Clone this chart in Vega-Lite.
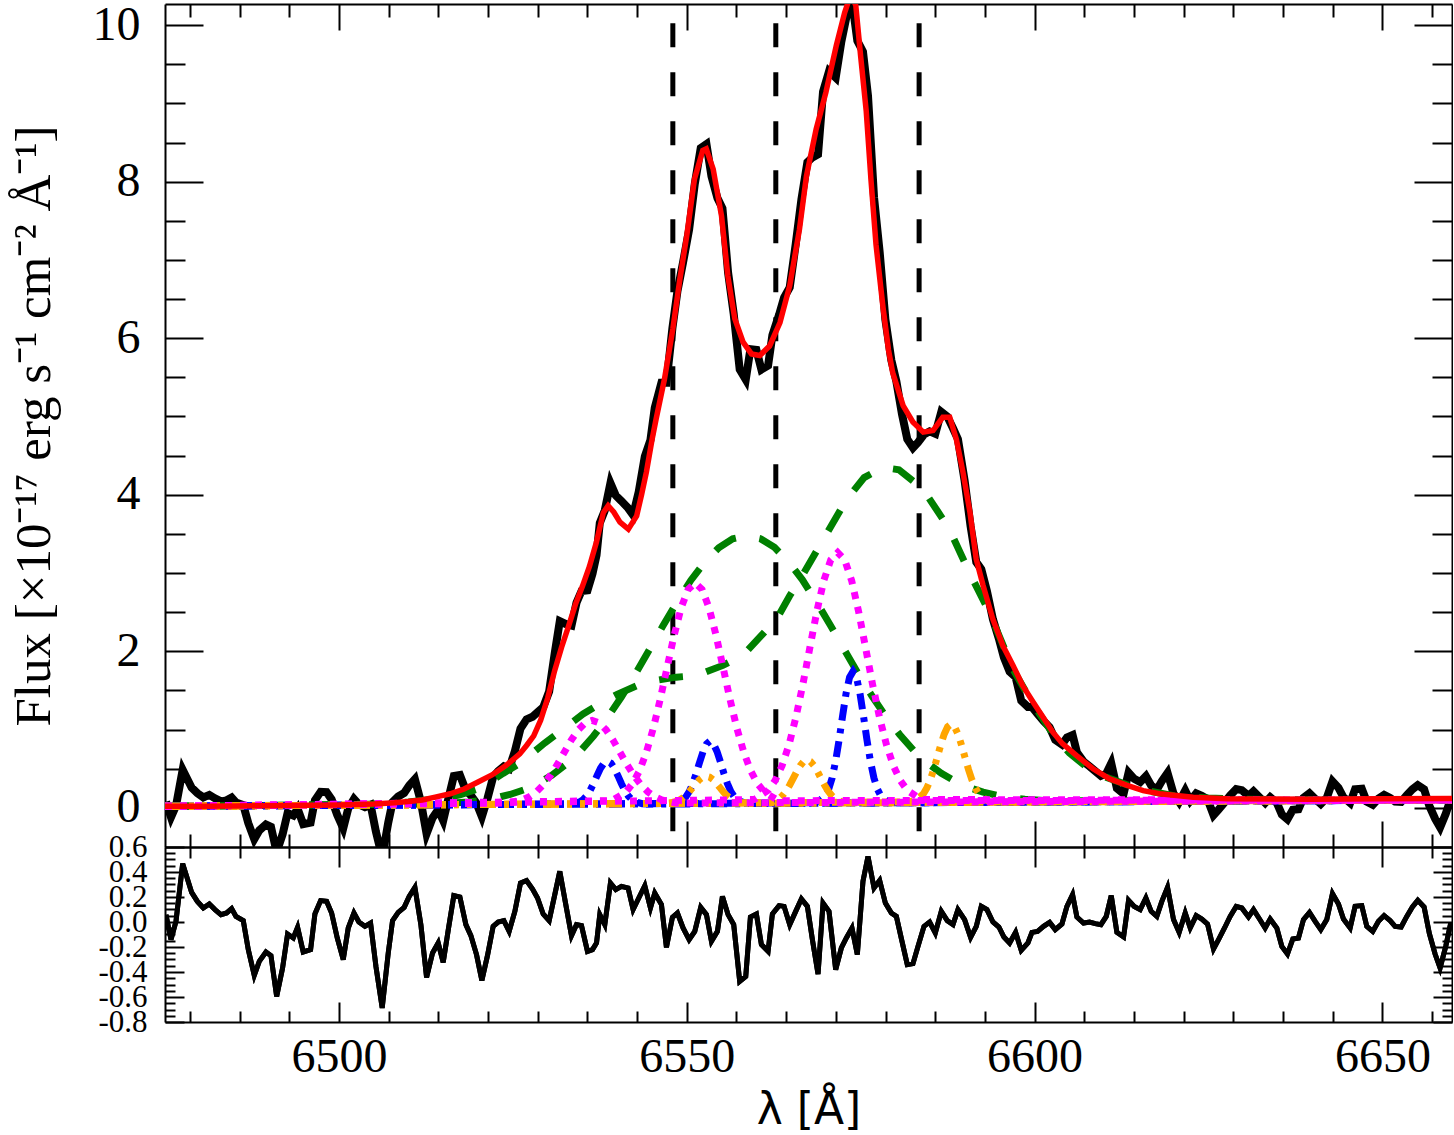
{
  "$schema": "https://vega.github.io/schema/vega-lite/v6.json",
  "background": "white",
  "padding": {"left": 8, "top": 1, "right": 0, "bottom": 0},
  "config": {
    "view": {"stroke": null},
    "axis": {
      "grid": false,
      "domainColor": "black",
      "domainWidth": 2,
      "tickColor": "black",
      "tickWidth": 2,
      "labelColor": "black",
      "labelFont": "Liberation Serif",
      "titleFont": "Liberation Serif",
      "titleFontWeight": "normal",
      "titleColor": "black",
      "labelOverlap": false,
      "labelFlush": false
    }
  },
  "datasets": {
    "obs": [
      {"lam":6475.14,"f":0.078},{"lam":6475.86,"f":-0.121},{"lam":6476.58,"f":0.025},{"lam":6477.54,"f":0.487},{"lam":6478.83,"f":0.258},{"lam":6479.65,"f":0.187},{"lam":6480.51,"f":0.134},{"lam":6481.37,"f":0.166},{"lam":6482.18,"f":0.122},{"lam":6483.05,"f":0.083},{"lam":6483.86,"f":0.096},{"lam":6484.58,"f":0.132},{"lam":6485.2,"f":0.07},{"lam":6486.25,"f":0.036},{"lam":6486.97,"f":-0.195},{"lam":6487.83,"f":-0.4},{"lam":6488.55,"f":-0.288},{"lam":6489.51,"f":-0.212},{"lam":6490.23,"f":-0.241},{"lam":6491.05,"f":-0.566},{"lam":6491.9,"f":-0.338},{"lam":6492.62,"f":-0.066},{"lam":6493.44,"f":-0.098},{"lam":6494.06,"f":-0.012},{"lam":6494.87,"f":-0.208},{"lam":6495.93,"f":-0.188},{"lam":6496.55,"f":0.097},{"lam":6497.37,"f":0.205},{"lam":6498.23,"f":0.2},{"lam":6498.95,"f":0.108},{"lam":6499.76,"f":-0.09},{"lam":6500.62,"f":-0.262},{"lam":6501.34,"f":-0.008},{"lam":6502.16,"f":0.114},{"lam":6502.87,"f":0.044},{"lam":6503.74,"f":0.01},{"lam":6504.55,"f":0.04},{"lam":6505.32,"f":-0.304},{"lam":6506.22,"f":-0.632},{"lam":6507.09,"f":-0.188},{"lam":6507.71,"f":0.074},{"lam":6508.52,"f":0.145},{"lam":6509.38,"f":0.19},{"lam":6510.1,"f":0.286},{"lam":6510.92,"f":0.366},{"lam":6511.78,"f":0.077},{"lam":6512.6,"f":-0.331},{"lam":6513.46,"f":-0.128},{"lam":6514.27,"f":-0.023},{"lam":6514.99,"f":-0.163},{"lam":6515.76,"f":0.127},{"lam":6516.52,"f":0.406},{"lam":6517.39,"f":0.42},{"lam":6518.25,"f":0.223},{"lam":6518.97,"f":0.161},{"lam":6519.78,"f":0.06},{"lam":6520.55,"f":-0.113},{"lam":6521.36,"f":0.122},{"lam":6522.17,"f":0.395},{"lam":6522.89,"f":0.47},{"lam":6523.71,"f":0.53},{"lam":6524.47,"f":0.5},{"lam":6525.29,"f":0.725},{"lam":6526.1,"f":1.012},{"lam":6526.97,"f":1.131},{"lam":6527.83,"f":1.164},{"lam":6528.55,"f":1.222},{"lam":6529.36,"f":1.284},{"lam":6530.22,"f":1.488},{"lam":6531.03,"f":1.98},{"lam":6531.75,"f":2.385},{"lam":6532.57,"f":2.35},{"lam":6533.43,"f":2.33},{"lam":6534.15,"f":2.62},{"lam":6534.87,"f":2.77},{"lam":6535.73,"f":2.78},{"lam":6536.45,"f":2.99},{"lam":6537.03,"f":3.23},{"lam":6537.5,"f":3.64},{"lam":6538.22,"f":3.8},{"lam":6539.03,"f":4.15},{"lam":6539.8,"f":3.99},{"lam":6540.61,"f":3.92},{"lam":6541.57,"f":3.83},{"lam":6542.29,"f":3.74},{"lam":6543.1,"f":4.04},{"lam":6543.97,"f":4.49},{"lam":6544.78,"f":4.7},{"lam":6545.4,"f":5.11},{"lam":6546.36,"f":5.43},{"lam":6547.08,"f":5.43},{"lam":6547.94,"f":6.13},{"lam":6548.66,"f":6.6},{"lam":6549.47,"f":6.97},{"lam":6550.34,"f":7.39},{"lam":6551.15,"f":7.97},{"lam":6552.01,"f":8.43},{"lam":6552.83,"f":8.48},{"lam":6553.55,"f":8.07},{"lam":6554.41,"f":7.79},{"lam":6555.13,"f":7.66},{"lam":6555.94,"f":6.84},{"lam":6556.75,"f":6.31},{"lam":6557.61,"f":5.6},{"lam":6558.48,"f":5.47},{"lam":6559.15,"f":5.86},{"lam":6560.01,"f":5.85},{"lam":6560.73,"f":5.6},{"lam":6561.69,"f":5.65},{"lam":6562.31,"f":6.04},{"lam":6563.27,"f":6.3},{"lam":6563.99,"f":6.52},{"lam":6564.8,"f":6.65},{"lam":6565.66,"f":7.2},{"lam":6566.48,"f":7.77},{"lam":6567.34,"f":8.25},{"lam":6568.06,"f":8.31},{"lam":6568.87,"f":8.35},{"lam":6569.59,"f":9.15},{"lam":6570.45,"f":9.41},{"lam":6571.41,"f":9.33},{"lam":6572.22,"f":9.79},{"lam":6572.94,"f":10.1},{"lam":6573.75,"f":10.32},{"lam":6574.52,"f":9.8},{"lam":6575.33,"f":9.66},{"lam":6576.05,"f":9.1},{"lam":6576.92,"f":7.8},{"lam":6577.73,"f":7.1},{"lam":6578.55,"f":6.24},{"lam":6579.41,"f":5.72},{"lam":6580.13,"f":5.45},{"lam":6580.94,"f":5.03},{"lam":6581.7,"f":4.71},{"lam":6582.52,"f":4.6},{"lam":6583.24,"f":4.67},{"lam":6584.1,"f":4.77},{"lam":6584.91,"f":4.81},{"lam":6585.73,"f":4.78},{"lam":6586.59,"f":5.06},{"lam":6587.45,"f":5.0},{"lam":6588.27,"f":4.85},{"lam":6588.98,"f":4.71},{"lam":6589.94,"f":4.18},{"lam":6590.8,"f":3.6},{"lam":6591.62,"f":3.14},{"lam":6592.34,"f":3.05},{"lam":6593.15,"f":2.77},{"lam":6594.01,"f":2.41},{"lam":6594.87,"f":2.16},{"lam":6595.59,"f":1.92},{"lam":6596.41,"f":1.74},{"lam":6597.27,"f":1.67},{"lam":6598.08,"f":1.37},{"lam":6599.04,"f":1.29},{"lam":6599.62,"f":1.29},{"lam":6600.43,"f":1.2},{"lam":6601.29,"f":1.11},{"lam":6602.16,"f":1.03},{"lam":6602.97,"f":0.87},{"lam":6603.93,"f":0.81},{"lam":6604.65,"f":0.9},{"lam":6605.46,"f":0.93},{"lam":6606.08,"f":0.71},{"lam":6607.04,"f":0.59},{"lam":6607.9,"f":0.53},{"lam":6608.72,"f":0.47},{"lam":6609.53,"f":0.41},{"lam":6610.3,"f":0.44},{"lam":6611.02,"f":0.57},{"lam":6611.83,"f":0.25},{"lam":6612.79,"f":0.18},{"lam":6613.51,"f":0.45},{"lam":6614.32,"f":0.37},{"lam":6615.18,"f":0.33},{"lam":6616.0,"f":0.405},{"lam":6616.76,"f":0.285},{"lam":6617.57,"f":0.232},{"lam":6618.29,"f":0.342},{"lam":6619.11,"f":0.447},{"lam":6619.97,"f":0.183},{"lam":6620.78,"f":0.075},{"lam":6621.65,"f":0.22},{"lam":6622.37,"f":0.09},{"lam":6623.23,"f":0.184},{"lam":6624.04,"f":0.154},{"lam":6624.86,"f":0.11},{"lam":6625.72,"f":-0.094},{"lam":6626.44,"f":-0.022},{"lam":6627.3,"f":0.068},{"lam":6628.11,"f":0.16},{"lam":6628.98,"f":0.239},{"lam":6629.79,"f":0.226},{"lam":6630.75,"f":0.153},{"lam":6631.47,"f":0.212},{"lam":6632.33,"f":0.136},{"lam":6633.14,"f":0.064},{"lam":6633.86,"f":0.136},{"lam":6634.82,"f":0.063},{"lam":6635.54,"f":-0.084},{"lam":6636.35,"f":-0.145},{"lam":6637.12,"f":-0.025},{"lam":6637.93,"f":-0.018},{"lam":6638.65,"f":0.129},{"lam":6639.51,"f":0.187},{"lam":6640.33,"f":0.115},{"lam":6641.14,"f":0.049},{"lam":6642.0,"f":0.129},{"lam":6642.82,"f":0.338},{"lam":6643.68,"f":0.255},{"lam":6644.4,"f":0.135},{"lam":6645.36,"f":0.063},{"lam":6646.07,"f":0.238},{"lam":6647.03,"f":0.245},{"lam":6647.75,"f":0.079},{"lam":6648.61,"f":0.039},{"lam":6649.43,"f":0.12},{"lam":6650.24,"f":0.166},{"lam":6651.1,"f":0.126},{"lam":6651.82,"f":0.08},{"lam":6652.69,"f":0.076},{"lam":6653.5,"f":0.161},{"lam":6654.31,"f":0.237},{"lam":6655.08,"f":0.29},{"lam":6655.99,"f":0.237},{"lam":6656.75,"f":0.024},{"lam":6657.57,"f":-0.138},{"lam":6658.29,"f":-0.25},{"lam":6659.1,"f":-0.076},{"lam":6659.82,"f":0.112}
    ],
    "res": [
      {"lam":6475.14,"r":0.058},{"lam":6475.86,"r":-0.141},{"lam":6476.58,"r":0.005},{"lam":6477.54,"r":0.467},{"lam":6478.83,"r":0.237},{"lam":6479.65,"r":0.165},{"lam":6480.51,"r":0.112},{"lam":6481.37,"r":0.144},{"lam":6482.18,"r":0.099},{"lam":6483.05,"r":0.059},{"lam":6483.86,"r":0.072},{"lam":6484.58,"r":0.107},{"lam":6485.2,"r":0.045},{"lam":6486.25,"r":0.011},{"lam":6486.97,"r":-0.221},{"lam":6487.83,"r":-0.427},{"lam":6488.55,"r":-0.315},{"lam":6489.51,"r":-0.24},{"lam":6490.23,"r":-0.269},{"lam":6491.05,"r":-0.595},{"lam":6491.9,"r":-0.368},{"lam":6492.62,"r":-0.096},{"lam":6493.44,"r":-0.128},{"lam":6494.06,"r":-0.043},{"lam":6494.87,"r":-0.24},{"lam":6495.93,"r":-0.221},{"lam":6496.55,"r":0.064},{"lam":6497.37,"r":0.171},{"lam":6498.23,"r":0.165},{"lam":6498.95,"r":0.072},{"lam":6499.76,"r":-0.128},{"lam":6500.62,"r":-0.301},{"lam":6501.34,"r":-0.048},{"lam":6502.16,"r":0.072},{"lam":6502.87,"r":0.0},{"lam":6503.74,"r":-0.035},{"lam":6504.55,"r":-0.008},{"lam":6505.32,"r":-0.355},{"lam":6506.22,"r":-0.688},{"lam":6507.09,"r":-0.248},{"lam":6507.71,"r":0.011},{"lam":6508.52,"r":0.077},{"lam":6509.38,"r":0.117},{"lam":6510.1,"r":0.205},{"lam":6510.92,"r":0.277},{"lam":6511.78,"r":-0.021},{"lam":6512.6,"r":-0.443},{"lam":6513.46,"r":-0.248},{"lam":6514.27,"r":-0.168},{"lam":6514.99,"r":-0.323},{"lam":6515.76,"r":-0.048},{"lam":6516.52,"r":0.211},{"lam":6517.39,"r":0.2},{"lam":6518.25,"r":-0.021},{"lam":6518.97,"r":-0.109},{"lam":6519.78,"r":-0.261},{"lam":6520.55,"r":-0.467},{"lam":6521.36,"r":-0.267},{"lam":6522.17,"r":-0.035},{"lam":6522.89,"r":0.0},{"lam":6523.71,"r":0.011},{"lam":6524.47,"r":-0.075},{"lam":6525.29,"r":0.085},{"lam":6526.1,"r":0.312},{"lam":6526.97,"r":0.331},{"lam":6527.83,"r":0.264},{"lam":6528.55,"r":0.192},{"lam":6529.36,"r":0.064},{"lam":6530.22,"r":0.011},{"lam":6531.03,"r":0.219},{"lam":6531.75,"r":0.405},{"lam":6532.57,"r":0.152},{"lam":6533.43,"r":-0.109},{"lam":6534.15,"r":-0.021},{"lam":6534.87,"r":-0.029},{"lam":6535.73,"r":-0.235},{"lam":6536.45,"r":-0.221},{"lam":6537.03,"r":-0.168},{"lam":6537.5,"r":0.059},{"lam":6538.22,"r":-0.021},{"lam":6539.03,"r":0.312},{"lam":6539.8,"r":0.259},{"lam":6540.61,"r":0.285},{"lam":6541.57,"r":0.272},{"lam":6542.29,"r":0.099},{"lam":6543.1,"r":0.192},{"lam":6543.97,"r":0.291},{"lam":6544.78,"r":0.112},{"lam":6545.4,"r":0.232},{"lam":6546.36,"r":0.139},{"lam":6547.08,"r":-0.203},{"lam":6547.94,"r":0.037},{"lam":6548.66,"r":0.072},{"lam":6549.47,"r":-0.048},{"lam":6550.34,"r":-0.141},{"lam":6551.15,"r":-0.075},{"lam":6552.01,"r":0.117},{"lam":6552.83,"r":0.059},{"lam":6553.55,"r":-0.155},{"lam":6554.41,"r":-0.075},{"lam":6555.13,"r":0.205},{"lam":6555.94,"r":0.059},{"lam":6556.75,"r":-0.021},{"lam":6557.61,"r":-0.475},{"lam":6558.48,"r":-0.435},{"lam":6559.15,"r":0.04},{"lam":6560.01,"r":0.064},{"lam":6560.73,"r":-0.181},{"lam":6561.69,"r":-0.235},{"lam":6562.31,"r":0.064},{"lam":6563.27,"r":0.131},{"lam":6563.99,"r":0.125},{"lam":6564.8,"r":-0.021},{"lam":6565.66,"r":0.085},{"lam":6566.48,"r":0.184},{"lam":6567.34,"r":0.125},{"lam":6568.06,"r":-0.141},{"lam":6568.87,"r":-0.416},{"lam":6569.59,"r":0.152},{"lam":6570.45,"r":0.085},{"lam":6571.41,"r":-0.381},{"lam":6572.22,"r":-0.208},{"lam":6572.94,"r":-0.128},{"lam":6573.75,"r":-0.048},{"lam":6574.52,"r":-0.261},{"lam":6575.33,"r":0.325},{"lam":6576.05,"r":0.525},{"lam":6576.92,"r":0.272},{"lam":6577.73,"r":0.333},{"lam":6578.55,"r":0.152},{"lam":6579.41,"r":0.072},{"lam":6580.13,"r":0.045},{"lam":6580.94,"r":-0.155},{"lam":6581.7,"r":-0.341},{"lam":6582.52,"r":-0.333},{"lam":6583.24,"r":-0.195},{"lam":6584.1,"r":-0.035},{"lam":6584.91,"r":0.0},{"lam":6585.73,"r":-0.088},{"lam":6586.59,"r":0.085},{"lam":6587.45,"r":0.011},{"lam":6588.27,"r":-0.021},{"lam":6588.98,"r":0.099},{"lam":6589.94,"r":0.019},{"lam":6590.8,"r":-0.123},{"lam":6591.62,"r":-0.035},{"lam":6592.34,"r":0.125},{"lam":6593.15,"r":0.099},{"lam":6594.01,"r":0.0},{"lam":6594.87,"r":-0.04},{"lam":6595.59,"r":-0.12},{"lam":6596.41,"r":-0.168},{"lam":6597.27,"r":-0.083},{"lam":6598.08,"r":-0.227},{"lam":6599.04,"r":-0.168},{"lam":6599.62,"r":-0.083},{"lam":6600.43,"r":-0.075},{"lam":6601.29,"r":-0.035},{"lam":6602.16,"r":-0.003},{"lam":6602.97,"r":-0.061},{"lam":6603.93,"r":-0.016},{"lam":6604.65,"r":0.125},{"lam":6605.46,"r":0.219},{"lam":6606.08,"r":0.04},{"lam":6607.04,"r":-0.008},{"lam":6607.9,"r":0.0},{"lam":6608.72,"r":-0.013},{"lam":6609.53,"r":-0.021},{"lam":6610.3,"r":0.045},{"lam":6611.02,"r":0.211},{"lam":6611.83,"r":-0.083},{"lam":6612.79,"r":-0.12},{"lam":6613.51,"r":0.173},{"lam":6614.32,"r":0.125},{"lam":6615.18,"r":0.099},{"lam":6616.0,"r":0.192},{"lam":6616.76,"r":0.085},{"lam":6617.57,"r":0.045},{"lam":6618.29,"r":0.165},{"lam":6619.11,"r":0.277},{"lam":6619.97,"r":0.019},{"lam":6620.78,"r":-0.083},{"lam":6621.65,"r":0.072},{"lam":6622.37,"r":-0.048},{"lam":6623.23,"r":0.051},{"lam":6624.04,"r":0.024},{"lam":6624.86,"r":-0.016},{"lam":6625.72,"r":-0.216},{"lam":6626.44,"r":-0.141},{"lam":6627.3,"r":-0.048},{"lam":6628.11,"r":0.045},{"lam":6628.98,"r":0.125},{"lam":6629.79,"r":0.112},{"lam":6630.75,"r":0.04},{"lam":6631.47,"r":0.099},{"lam":6632.33,"r":0.024},{"lam":6633.14,"r":-0.048},{"lam":6633.86,"r":0.024},{"lam":6634.82,"r":-0.048},{"lam":6635.54,"r":-0.195},{"lam":6636.35,"r":-0.256},{"lam":6637.12,"r":-0.136},{"lam":6637.93,"r":-0.128},{"lam":6638.65,"r":0.019},{"lam":6639.51,"r":0.077},{"lam":6640.33,"r":0.005},{"lam":6641.14,"r":-0.061},{"lam":6642.0,"r":0.019},{"lam":6642.82,"r":0.227},{"lam":6643.68,"r":0.144},{"lam":6644.4,"r":0.024},{"lam":6645.36,"r":-0.048},{"lam":6646.07,"r":0.125},{"lam":6647.03,"r":0.131},{"lam":6647.75,"r":-0.035},{"lam":6648.61,"r":-0.075},{"lam":6649.43,"r":0.005},{"lam":6650.24,"r":0.051},{"lam":6651.1,"r":0.011},{"lam":6651.82,"r":-0.035},{"lam":6652.69,"r":-0.04},{"lam":6653.5,"r":0.045},{"lam":6654.31,"r":0.12},{"lam":6655.08,"r":0.173},{"lam":6655.99,"r":0.12},{"lam":6656.75,"r":-0.093},{"lam":6657.57,"r":-0.256},{"lam":6658.29,"r":-0.368},{"lam":6659.1,"r":-0.195},{"lam":6659.82,"r":-0.008}
    ],
    "model": [
      {"lam":6475,"f":0.02},{"lam":6480,"f":0.022},{"lam":6485,"f":0.025},{"lam":6490,"f":0.028},{"lam":6495,"f":0.032},{"lam":6500,"f":0.038},{"lam":6505,"f":0.05},{"lam":6508,"f":0.065},{"lam":6510,"f":0.08},{"lam":6512,"f":0.1},{"lam":6514,"f":0.14},{"lam":6516,"f":0.18},{"lam":6518,"f":0.24},{"lam":6520,"f":0.33},{"lam":6522,"f":0.42},{"lam":6524,"f":0.54},{"lam":6526,"f":0.69},{"lam":6527,"f":0.8},{"lam":6528,"f":0.92},{"lam":6529,"f":1.12},{"lam":6530,"f":1.4},{"lam":6531,"f":1.75},{"lam":6532,"f":2.05},{"lam":6533,"f":2.32},{"lam":6534,"f":2.6},{"lam":6535,"f":2.83},{"lam":6536,"f":3.08},{"lam":6537,"f":3.39},{"lam":6538,"f":3.77},{"lam":6538.7,"f":3.86},{"lam":6539.5,"f":3.78},{"lam":6540.4,"f":3.65},{"lam":6541.6,"f":3.56},{"lam":6542.8,"f":3.73},{"lam":6543.5,"f":4.0},{"lam":6544.2,"f":4.29},{"lam":6545,"f":4.7},{"lam":6545.6,"f":4.97},{"lam":6546.8,"f":5.48},{"lam":6548,"f":6.12},{"lam":6549,"f":6.75},{"lam":6550,"f":7.31},{"lam":6551.1,"f":8.03},{"lam":6552.3,"f":8.4},{"lam":6552.8,"f":8.42},{"lam":6553.8,"f":8.16},{"lam":6555,"f":7.56},{"lam":6555.9,"f":6.8},{"lam":6556.9,"f":6.25},{"lam":6558.1,"f":5.95},{"lam":6559.3,"f":5.8},{"lam":6560.5,"f":5.78},{"lam":6561.9,"f":5.9},{"lam":6563.4,"f":6.2},{"lam":6564.8,"f":6.67},{"lam":6566.2,"f":7.39},{"lam":6567.2,"f":8.07},{"lam":6568.6,"f":8.67},{"lam":6570,"f":9.14},{"lam":6571.5,"f":9.74},{"lam":6572.7,"f":10.16},{"lam":6573.6,"f":10.4},{"lam":6574.3,"f":10.25},{"lam":6575,"f":9.6},{"lam":6575.8,"f":8.9},{"lam":6576.5,"f":8.0},{"lam":6577.2,"f":7.2},{"lam":6578.2,"f":6.4},{"lam":6579,"f":5.85},{"lam":6579.6,"f":5.56},{"lam":6581.1,"f":5.14},{"lam":6582.5,"f":4.93},{"lam":6584,"f":4.8},{"lam":6585.4,"f":4.82},{"lam":6586.8,"f":4.99},{"lam":6587.8,"f":4.99},{"lam":6588.75,"f":4.71},{"lam":6589.7,"f":4.29},{"lam":6590.7,"f":3.78},{"lam":6591.6,"f":3.18},{"lam":6592.6,"f":2.84},{"lam":6594,"f":2.41},{"lam":6595.45,"f":2.07},{"lam":6596.9,"f":1.82},{"lam":6598.3,"f":1.56},{"lam":6599.8,"f":1.35},{"lam":6601.2,"f":1.16},{"lam":6602.6,"f":0.97},{"lam":6604,"f":0.82},{"lam":6606,"f":0.67},{"lam":6608.4,"f":0.5},{"lam":6610.8,"f":0.37},{"lam":6613.2,"f":0.29},{"lam":6615.6,"f":0.22},{"lam":6618,"f":0.18},{"lam":6622.8,"f":0.135},{"lam":6627.6,"f":0.115},{"lam":6640,"f":0.11},{"lam":6650,"f":0.115},{"lam":6660,"f":0.12}
    ],
    "green": [
      {"line":"A","lam":6475,"f":0.02},{"line":"A","lam":6514.6,"f":0.051},{"line":"A","lam":6518.6,"f":0.076},{"line":"A","lam":6520.6,"f":0.098},{"line":"A","lam":6522.6,"f":0.129},{"line":"A","lam":6524.6,"f":0.171},{"line":"A","lam":6526.6,"f":0.231},{"line":"A","lam":6528.6,"f":0.312},{"line":"A","lam":6530.6,"f":0.417},{"line":"A","lam":6532.6,"f":0.551},{"line":"A","lam":6534.6,"f":0.716},{"line":"A","lam":6536.6,"f":0.919},{"line":"A","lam":6538.6,"f":1.152},{"line":"A","lam":6540.6,"f":1.416},{"line":"A","lam":6542.6,"f":1.708},{"line":"A","lam":6544.6,"f":2.017},{"line":"A","lam":6546.6,"f":2.329},{"line":"A","lam":6548.6,"f":2.631},{"line":"A","lam":6550.6,"f":2.909},{"line":"A","lam":6552.6,"f":3.142},{"line":"A","lam":6554.6,"f":3.324},{"line":"A","lam":6556.6,"f":3.437},{"line":"A","lam":6558.6,"f":3.476},{"line":"A","lam":6560.6,"f":3.439},{"line":"A","lam":6562.6,"f":3.328},{"line":"A","lam":6564.6,"f":3.147},{"line":"A","lam":6566.6,"f":2.916},{"line":"A","lam":6568.6,"f":2.639},{"line":"A","lam":6570.6,"f":2.339},{"line":"A","lam":6572.6,"f":2.029},{"line":"A","lam":6574.6,"f":1.722},{"line":"A","lam":6576.6,"f":1.432},{"line":"A","lam":6578.6,"f":1.17},{"line":"A","lam":6580.6,"f":0.938},{"line":"A","lam":6582.6,"f":0.736},{"line":"A","lam":6584.6,"f":0.573},{"line":"A","lam":6586.6,"f":0.441},{"line":"A","lam":6588.6,"f":0.338},{"line":"A","lam":6590.6,"f":0.259},{"line":"A","lam":6592.6,"f":0.201},{"line":"A","lam":6594.6,"f":0.16},{"line":"A","lam":6596.6,"f":0.131},{"line":"A","lam":6598.6,"f":0.11},{"line":"A","lam":6602.6,"f":0.089},{"line":"A","lam":6660,"f":0.1},
      {"line":"B","lam":6475,"f":0.02},{"line":"B","lam":6490,"f":0.03},{"line":"B","lam":6500,"f":0.04},{"line":"B","lam":6505,"f":0.05},{"line":"B","lam":6510,"f":0.075},{"line":"B","lam":6514,"f":0.115},{"line":"B","lam":6517.4,"f":0.165},{"line":"B","lam":6520.3,"f":0.25},{"line":"B","lam":6523.6,"f":0.44},{"line":"B","lam":6526.2,"f":0.58},{"line":"B","lam":6529.6,"f":0.83},{"line":"B","lam":6531.7,"f":0.97},{"line":"B","lam":6535.1,"f":1.2},{"line":"B","lam":6537.5,"f":1.33},{"line":"B","lam":6540,"f":1.45},{"line":"B","lam":6542.8,"f":1.56},{"line":"B","lam":6544.2,"f":1.61},{"line":"B","lam":6548.5,"f":1.67},{"line":"B","lam":6551.4,"f":1.69},{"line":"B","lam":6555.2,"f":1.82},{"line":"B","lam":6558.1,"f":1.95},{"line":"B","lam":6560.5,"f":2.18},{"line":"B","lam":6562.9,"f":2.41},{"line":"B","lam":6564.8,"f":2.71},{"line":"B","lam":6566.3,"f":2.92},{"line":"B","lam":6569.1,"f":3.35},{"line":"B","lam":6572.9,"f":3.93},{"line":"B","lam":6575.5,"f":4.22},{"line":"B","lam":6578.2,"f":4.35},{"line":"B","lam":6580.5,"f":4.32},{"line":"B","lam":6583.9,"f":4.08},{"line":"B","lam":6587.7,"f":3.57},{"line":"B","lam":6590.6,"f":3.01},{"line":"B","lam":6593.5,"f":2.5},{"line":"B","lam":6596.9,"f":1.77},{"line":"B","lam":6599.8,"f":1.32},{"line":"B","lam":6602.6,"f":0.95},{"line":"B","lam":6605,"f":0.7},{"line":"B","lam":6607.5,"f":0.52},{"line":"B","lam":6610,"f":0.4},{"line":"B","lam":6615,"f":0.24},{"line":"B","lam":6620,"f":0.155},{"line":"B","lam":6625,"f":0.125},{"line":"B","lam":6630,"f":0.11},{"line":"B","lam":6645,"f":0.1},{"line":"B","lam":6660,"f":0.102}
    ],
    "magenta": [
      {"line":"M1","lam":6475,"f":0.02},{"line":"M1","lam":6524.4,"f":0.062},{"line":"M1","lam":6526.4,"f":0.102},{"line":"M1","lam":6527.4,"f":0.143},{"line":"M1","lam":6528.4,"f":0.206},{"line":"M1","lam":6529.4,"f":0.296},{"line":"M1","lam":6530.4,"f":0.414},{"line":"M1","lam":6531.4,"f":0.555},{"line":"M1","lam":6532.4,"f":0.711},{"line":"M1","lam":6533.4,"f":0.866},{"line":"M1","lam":6534.4,"f":0.997},{"line":"M1","lam":6535.4,"f":1.086},{"line":"M1","lam":6536.4,"f":1.117},{"line":"M1","lam":6537.4,"f":1.086},{"line":"M1","lam":6538.4,"f":0.997},{"line":"M1","lam":6539.4,"f":0.866},{"line":"M1","lam":6540.4,"f":0.711},{"line":"M1","lam":6541.4,"f":0.555},{"line":"M1","lam":6542.4,"f":0.414},{"line":"M1","lam":6543.4,"f":0.296},{"line":"M1","lam":6544.4,"f":0.206},{"line":"M1","lam":6545.4,"f":0.143},{"line":"M1","lam":6546.4,"f":0.102},{"line":"M1","lam":6548.4,"f":0.062},{"line":"M1","lam":6660,"f":0.1},
      {"line":"M2","lam":6475,"f":0.02},{"line":"M2","lam":6539.2,"f":0.092},{"line":"M2","lam":6541.2,"f":0.197},{"line":"M2","lam":6542.2,"f":0.307},{"line":"M2","lam":6543.2,"f":0.473},{"line":"M2","lam":6544.2,"f":0.71},{"line":"M2","lam":6545.2,"f":1.02},{"line":"M2","lam":6546.2,"f":1.393},{"line":"M2","lam":6547.2,"f":1.804},{"line":"M2","lam":6548.2,"f":2.21},{"line":"M2","lam":6549.2,"f":2.557},{"line":"M2","lam":6550.2,"f":2.791},{"line":"M2","lam":6551.2,"f":2.873},{"line":"M2","lam":6552.2,"f":2.791},{"line":"M2","lam":6553.2,"f":2.557},{"line":"M2","lam":6554.2,"f":2.21},{"line":"M2","lam":6555.2,"f":1.804},{"line":"M2","lam":6556.2,"f":1.393},{"line":"M2","lam":6557.2,"f":1.02},{"line":"M2","lam":6558.2,"f":0.71},{"line":"M2","lam":6559.2,"f":0.473},{"line":"M2","lam":6560.2,"f":0.307},{"line":"M2","lam":6561.2,"f":0.197},{"line":"M2","lam":6563.2,"f":0.092},{"line":"M2","lam":6660,"f":0.1},
      {"line":"M3","lam":6475,"f":0.02},{"line":"M3","lam":6559.7,"f":0.106},{"line":"M3","lam":6561.7,"f":0.225},{"line":"M3","lam":6562.7,"f":0.35},{"line":"M3","lam":6563.7,"f":0.539},{"line":"M3","lam":6564.7,"f":0.808},{"line":"M3","lam":6565.7,"f":1.16},{"line":"M3","lam":6566.7,"f":1.582},{"line":"M3","lam":6567.7,"f":2.049},{"line":"M3","lam":6568.7,"f":2.51},{"line":"M3","lam":6569.7,"f":2.904},{"line":"M3","lam":6570.7,"f":3.169},{"line":"M3","lam":6571.7,"f":3.262},{"line":"M3","lam":6572.7,"f":3.169},{"line":"M3","lam":6573.7,"f":2.904},{"line":"M3","lam":6574.7,"f":2.51},{"line":"M3","lam":6575.7,"f":2.049},{"line":"M3","lam":6576.7,"f":1.582},{"line":"M3","lam":6577.7,"f":1.16},{"line":"M3","lam":6578.7,"f":0.808},{"line":"M3","lam":6579.7,"f":0.539},{"line":"M3","lam":6580.7,"f":0.35},{"line":"M3","lam":6581.7,"f":0.225},{"line":"M3","lam":6583.7,"f":0.106},{"line":"M3","lam":6660,"f":0.1}
    ],
    "blue": [
      {"line":"B1","lam":6475,"f":0.02},{"line":"B1","lam":6532.6,"f":0.048},{"line":"B1","lam":6533.6,"f":0.053},{"line":"B1","lam":6534.6,"f":0.076},{"line":"B1","lam":6535.1,"f":0.105},{"line":"B1","lam":6535.6,"f":0.152},{"line":"B1","lam":6536.1,"f":0.221},{"line":"B1","lam":6536.6,"f":0.311},{"line":"B1","lam":6537.1,"f":0.411},{"line":"B1","lam":6537.6,"f":0.505},{"line":"B1","lam":6538.1,"f":0.572},{"line":"B1","lam":6538.6,"f":0.597},{"line":"B1","lam":6539.1,"f":0.572},{"line":"B1","lam":6539.6,"f":0.505},{"line":"B1","lam":6540.1,"f":0.411},{"line":"B1","lam":6540.6,"f":0.311},{"line":"B1","lam":6541.1,"f":0.221},{"line":"B1","lam":6541.6,"f":0.152},{"line":"B1","lam":6542.1,"f":0.105},{"line":"B1","lam":6542.6,"f":0.076},{"line":"B1","lam":6543.6,"f":0.053},{"line":"B1","lam":6544.6,"f":0.048},{"line":"B1","lam":6660,"f":0.1},
      {"line":"B2","lam":6475,"f":0.02},{"line":"B2","lam":6547.35,"f":0.055},{"line":"B2","lam":6548.35,"f":0.062},{"line":"B2","lam":6549.35,"f":0.096},{"line":"B2","lam":6549.85,"f":0.138},{"line":"B2","lam":6550.35,"f":0.207},{"line":"B2","lam":6550.85,"f":0.308},{"line":"B2","lam":6551.35,"f":0.438},{"line":"B2","lam":6551.85,"f":0.584},{"line":"B2","lam":6552.35,"f":0.72},{"line":"B2","lam":6552.85,"f":0.818},{"line":"B2","lam":6553.35,"f":0.854},{"line":"B2","lam":6553.85,"f":0.818},{"line":"B2","lam":6554.35,"f":0.72},{"line":"B2","lam":6554.85,"f":0.584},{"line":"B2","lam":6555.35,"f":0.438},{"line":"B2","lam":6555.85,"f":0.308},{"line":"B2","lam":6556.35,"f":0.207},{"line":"B2","lam":6556.85,"f":0.138},{"line":"B2","lam":6557.35,"f":0.096},{"line":"B2","lam":6558.35,"f":0.062},{"line":"B2","lam":6559.35,"f":0.055},{"line":"B2","lam":6660,"f":0.1},
      {"line":"B3","lam":6475,"f":0.02},{"line":"B3","lam":6567.9,"f":0.065},{"line":"B3","lam":6568.9,"f":0.08},{"line":"B3","lam":6569.9,"f":0.152},{"line":"B3","lam":6570.4,"f":0.239},{"line":"B3","lam":6570.9,"f":0.384},{"line":"B3","lam":6571.4,"f":0.596},{"line":"B3","lam":6571.9,"f":0.869},{"line":"B3","lam":6572.4,"f":1.175},{"line":"B3","lam":6572.9,"f":1.461},{"line":"B3","lam":6573.4,"f":1.667},{"line":"B3","lam":6573.9,"f":1.743},{"line":"B3","lam":6574.4,"f":1.667},{"line":"B3","lam":6574.9,"f":1.461},{"line":"B3","lam":6575.4,"f":1.175},{"line":"B3","lam":6575.9,"f":0.869},{"line":"B3","lam":6576.4,"f":0.596},{"line":"B3","lam":6576.9,"f":0.384},{"line":"B3","lam":6577.4,"f":0.239},{"line":"B3","lam":6577.9,"f":0.152},{"line":"B3","lam":6578.9,"f":0.08},{"line":"B3","lam":6579.9,"f":0.065},{"line":"B3","lam":6660,"f":0.1}
    ],
    "orange": [
      {"line":"O1","lam":6475,"f":0.02},{"line":"O1","lam":6546.8,"f":0.056},{"line":"O1","lam":6547.8,"f":0.065},{"line":"O1","lam":6548.8,"f":0.092},{"line":"O1","lam":6549.3,"f":0.118},{"line":"O1","lam":6549.8,"f":0.154},{"line":"O1","lam":6550.3,"f":0.201},{"line":"O1","lam":6550.8,"f":0.255},{"line":"O1","lam":6551.3,"f":0.31},{"line":"O1","lam":6551.8,"f":0.359},{"line":"O1","lam":6552.3,"f":0.392},{"line":"O1","lam":6552.8,"f":0.404},{"line":"O1","lam":6553.3,"f":0.392},{"line":"O1","lam":6553.8,"f":0.359},{"line":"O1","lam":6554.3,"f":0.31},{"line":"O1","lam":6554.8,"f":0.255},{"line":"O1","lam":6555.3,"f":0.201},{"line":"O1","lam":6555.8,"f":0.154},{"line":"O1","lam":6556.3,"f":0.118},{"line":"O1","lam":6556.8,"f":0.092},{"line":"O1","lam":6557.8,"f":0.065},{"line":"O1","lam":6558.8,"f":0.056},{"line":"O1","lam":6660,"f":0.1},
      {"line":"O2","lam":6475,"f":0.02},{"line":"O2","lam":6561.3,"f":0.064},{"line":"O2","lam":6562.3,"f":0.077},{"line":"O2","lam":6563.3,"f":0.12},{"line":"O2","lam":6563.8,"f":0.161},{"line":"O2","lam":6564.3,"f":0.218},{"line":"O2","lam":6564.8,"f":0.292},{"line":"O2","lam":6565.3,"f":0.376},{"line":"O2","lam":6565.8,"f":0.463},{"line":"O2","lam":6566.3,"f":0.539},{"line":"O2","lam":6566.8,"f":0.591},{"line":"O2","lam":6567.3,"f":0.61},{"line":"O2","lam":6567.8,"f":0.591},{"line":"O2","lam":6568.3,"f":0.539},{"line":"O2","lam":6568.8,"f":0.463},{"line":"O2","lam":6569.3,"f":0.376},{"line":"O2","lam":6569.8,"f":0.292},{"line":"O2","lam":6570.3,"f":0.218},{"line":"O2","lam":6570.8,"f":0.161},{"line":"O2","lam":6571.3,"f":0.12},{"line":"O2","lam":6572.3,"f":0.077},{"line":"O2","lam":6573.3,"f":0.064},{"line":"O2","lam":6660,"f":0.1},
      {"line":"O3","lam":6475,"f":0.02},{"line":"O3","lam":6582,"f":0.076},{"line":"O3","lam":6583,"f":0.1},{"line":"O3","lam":6584,"f":0.178},{"line":"O3","lam":6584.5,"f":0.252},{"line":"O3","lam":6585,"f":0.356},{"line":"O3","lam":6585.5,"f":0.49},{"line":"O3","lam":6586,"f":0.644},{"line":"O3","lam":6586.5,"f":0.801},{"line":"O3","lam":6587,"f":0.94},{"line":"O3","lam":6587.5,"f":1.035},{"line":"O3","lam":6588,"f":1.069},{"line":"O3","lam":6588.5,"f":1.035},{"line":"O3","lam":6589,"f":0.94},{"line":"O3","lam":6589.5,"f":0.801},{"line":"O3","lam":6590,"f":0.644},{"line":"O3","lam":6590.5,"f":0.49},{"line":"O3","lam":6591,"f":0.356},{"line":"O3","lam":6591.5,"f":0.252},{"line":"O3","lam":6592,"f":0.178},{"line":"O3","lam":6593,"f":0.1},{"line":"O3","lam":6594,"f":0.076},{"line":"O3","lam":6660,"f":0.1}
    ],
    "vlines": [{"lam":6548.0},{"lam":6562.8},{"lam":6583.4}]
  },
  "vconcat": [
    {
      "width": 1287,
      "height": 843,
      "layer": [
        {
          "data": {"name": "obs"},
          "mark": {"type": "line", "color": "black", "strokeWidth": 8, "clip": true},
          "encoding": {
            "x": {"field": "lam", "type": "quantitative", "scale": {"domain": [6475, 6660], "nice": false, "zero": false},
              "axis": {"orient": "bottom", "title": null, "labels": false,
                "values": [6478.571,6485.714,6492.857,6500,6507.143,6514.286,6521.429,6528.571,6535.714,6542.857,6550,6557.143,6564.286,6571.429,6578.571,6585.714,6592.857,6600,6607.143,6614.286,6621.429,6628.571,6635.714,6642.857,6650,6657.143],
                "tickSize": {"condition": {"test": "abs(datum.value/50 - round(datum.value/50)) < 0.001", "value": -26}, "value": -13}}},
            "y": {"field": "f", "type": "quantitative", "scale": {"domain": [-0.5, 10.27], "nice": false, "zero": false},
              "axis": {"orient": "left", "title": "Flux [×10⁻¹⁷ erg s⁻¹ cm⁻² Å⁻¹]", "titleFontSize": 51, "titlePadding": 32,
                "values": [0,0.5,1,1.5,2,2.5,3,3.5,4,4.5,5,5.5,6,6.5,7,7.5,8,8.5,9,9.5,10],
                "labelExpr": "datum.value % 2 === 0 ? format(datum.value, 'd') : ''",
                "labelFontSize": 48, "labelPadding": 63,
                "tickSize": {"condition": {"test": "datum.value % 2 === 0", "value": -38}, "value": -20}}}
          }
        },
        {
          "data": {"name": "vlines"},
          "mark": {"type": "rule", "color": "black", "strokeWidth": 5, "strokeDash": [24, 25], "strokeDashOffset": 29.7},
          "encoding": {
            "x": {"field": "lam", "type": "quantitative", "scale": {"domain": [6475, 6660], "nice": false, "zero": false}, "axis": null}
          }
        },
        {
          "data": {"name": "green"},
          "mark": {"type": "line", "color": "#008000", "strokeWidth": 7, "strokeDash": [24, 24], "clip": true},
          "encoding": {
            "x": {"field": "lam", "type": "quantitative", "scale": {"domain": [6475, 6660], "nice": false, "zero": false}, "axis": null},
            "y": {"field": "f", "type": "quantitative", "scale": {"domain": [-0.5, 10.27], "nice": false, "zero": false}, "axis": null},
            "detail": {"field": "line"}
          }
        },
        {
          "data": {"name": "blue"},
          "mark": {"type": "line", "color": "#0000ff", "strokeWidth": 7, "strokeDash": [16, 8, 5, 8], "clip": true},
          "encoding": {
            "x": {"field": "lam", "type": "quantitative", "scale": {"domain": [6475, 6660], "nice": false, "zero": false}, "axis": null},
            "y": {"field": "f", "type": "quantitative", "scale": {"domain": [-0.5, 10.27], "nice": false, "zero": false}, "axis": null},
            "detail": {"field": "line"}
          }
        },
        {
          "data": {"name": "orange"},
          "mark": {"type": "line", "color": "#ffa500", "strokeWidth": 7, "strokeDash": [16, 8, 5, 8, 5, 8, 5, 8], "clip": true},
          "encoding": {
            "x": {"field": "lam", "type": "quantitative", "scale": {"domain": [6475, 6660], "nice": false, "zero": false}, "axis": null},
            "y": {"field": "f", "type": "quantitative", "scale": {"domain": [-0.5, 10.27], "nice": false, "zero": false}, "axis": null},
            "detail": {"field": "line"}
          }
        },
        {
          "data": {"name": "magenta"},
          "mark": {"type": "line", "color": "#ff00ff", "strokeWidth": 7, "strokeDash": [7, 8], "clip": true},
          "encoding": {
            "x": {"field": "lam", "type": "quantitative", "scale": {"domain": [6475, 6660], "nice": false, "zero": false}, "axis": null},
            "y": {"field": "f", "type": "quantitative", "scale": {"domain": [-0.5, 10.27], "nice": false, "zero": false}, "axis": null},
            "detail": {"field": "line"}
          }
        },
        {
          "data": {"name": "model"},
          "mark": {"type": "line", "color": "red", "strokeWidth": 5.5, "clip": true},
          "encoding": {
            "x": {"field": "lam", "type": "quantitative", "scale": {"domain": [6475, 6660], "nice": false, "zero": false},
              "axis": {"orient": "top", "title": null, "labels": false,
                "values": [6478.571,6485.714,6492.857,6500,6507.143,6514.286,6521.429,6528.571,6535.714,6542.857,6550,6557.143,6564.286,6571.429,6578.571,6585.714,6592.857,6600,6607.143,6614.286,6621.429,6628.571,6635.714,6642.857,6650,6657.143],
                "tickSize": {"condition": {"test": "abs(datum.value/50 - round(datum.value/50)) < 0.001", "value": -26}, "value": -13}}},
            "y": {"field": "f", "type": "quantitative", "scale": {"domain": [-0.5, 10.27], "nice": false, "zero": false},
              "axis": {"orient": "right", "title": null, "labels": false,
                "values": [0,0.5,1,1.5,2,2.5,3,3.5,4,4.5,5,5.5,6,6.5,7,7.5,8,8.5,9,9.5,10],
                "tickSize": {"condition": {"test": "datum.value % 2 === 0", "value": -38}, "value": -20}}}
          }
        }
      ],
      "resolve": {"axis": {"x": "independent", "y": "independent"}}
    },
    {
      "width": 1287,
      "height": 175,
      "data": {"name": "res"},
      "layer": [
        {
          "mark": {"type": "line", "color": "black", "strokeWidth": 5, "clip": true},
          "encoding": {
            "x": {"field": "lam", "type": "quantitative", "scale": {"domain": [6475, 6660], "nice": false, "zero": false},
              "axis": {"orient": "bottom", "title": "λ [Å]", "titleFont": "DejaVu Sans", "titleFontSize": 44, "titlePadding": -2,
                "values": [6478.571,6485.714,6492.857,6500,6507.143,6514.286,6521.429,6528.571,6535.714,6542.857,6550,6557.143,6564.286,6571.429,6578.571,6585.714,6592.857,6600,6607.143,6614.286,6621.429,6628.571,6635.714,6642.857,6650,6657.143],
                "labelExpr": "abs(datum.value/50 - round(datum.value/50)) < 0.001 ? format(datum.value, 'd') : ''",
                "labelFontSize": 48, "labelPadding": 31,
                "tickSize": {"condition": {"test": "abs(datum.value/50 - round(datum.value/50)) < 0.001", "value": -20}, "value": -11}}},
            "y": {"field": "r", "type": "quantitative", "scale": {"domain": [-0.8, 0.6], "nice": false, "zero": false},
              "axis": {"orient": "left", "title": null,
                "values": [-0.8,-0.75,-0.7,-0.65,-0.6,-0.55,-0.5,-0.45,-0.4,-0.35,-0.3,-0.25,-0.2,-0.15,-0.1,-0.05,0,0.05,0.1,0.15,0.2,0.25,0.3,0.35,0.4,0.45,0.5,0.55,0.6],
                "labelExpr": "abs(datum.value*5 - round(datum.value*5)) < 0.001 ? (datum.value < -0.001 ? '-' : '') + format(abs(datum.value), '.1f') : ''",
                "labelFontSize": 31, "labelPadding": 37,
                "tickSize": {"condition": {"test": "abs(datum.value*5 - round(datum.value*5)) < 0.001", "value": -19}, "value": -10}}}
          }
        },
        {
          "mark": {"type": "line", "color": "black", "strokeWidth": 5, "clip": true},
          "encoding": {
            "x": {"field": "lam", "type": "quantitative", "scale": {"domain": [6475, 6660], "nice": false, "zero": false},
              "axis": {"orient": "top", "title": null, "labels": false,
                "values": [6478.571,6485.714,6492.857,6500,6507.143,6514.286,6521.429,6528.571,6535.714,6542.857,6550,6557.143,6564.286,6571.429,6578.571,6585.714,6592.857,6600,6607.143,6614.286,6621.429,6628.571,6635.714,6642.857,6650,6657.143],
                "tickSize": {"condition": {"test": "abs(datum.value/50 - round(datum.value/50)) < 0.001", "value": -20}, "value": -11}}},
            "y": {"field": "r", "type": "quantitative", "scale": {"domain": [-0.8, 0.6], "nice": false, "zero": false},
              "axis": {"orient": "right", "title": null, "labels": false,
                "values": [-0.8,-0.75,-0.7,-0.65,-0.6,-0.55,-0.5,-0.45,-0.4,-0.35,-0.3,-0.25,-0.2,-0.15,-0.1,-0.05,0,0.05,0.1,0.15,0.2,0.25,0.3,0.35,0.4,0.45,0.5,0.55,0.6],
                "tickSize": {"condition": {"test": "abs(datum.value*5 - round(datum.value*5)) < 0.001", "value": -19}, "value": -10}}}
          }
        }
      ],
      "resolve": {"axis": {"x": "independent", "y": "independent"}}
    }
  ],
  "spacing": 0,
  "bounds": "flush"
}
